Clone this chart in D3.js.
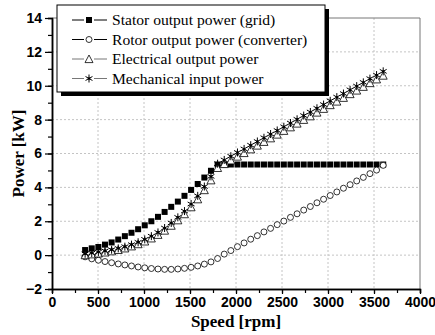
<!DOCTYPE html>
<html>
<head>
<meta charset="utf-8">
<script src="https://cdn.jsdelivr.net/npm/d3@7"></script>
<style>
  body { margin: 0; background: #fff; }
  svg { display: block; }
</style>
</head>
<body>
<div id="chart"></div>
<script>
// speed in rpm (x) and powers in kW
var speed = [360, 432, 504, 576, 648, 720, 792, 864, 936, 1008, 1080, 1152, 1224, 1296, 1368, 1440,
             1512, 1584, 1656, 1728, 1800, 1872, 1944, 2016, 2088, 2160, 2232, 2304, 2376, 2448, 2520,
             2592, 2664, 2736, 2808, 2880, 2952, 3024, 3096, 3168, 3240, 3312, 3384, 3456, 3528, 3600];

var stator = [0.3, 0.4, 0.48, 0.62, 0.75, 0.92, 1.12, 1.32, 1.53, 1.76, 2.0, 2.26, 2.55, 2.85, 3.16, 3.5,
              3.85, 4.2, 4.58, 4.98, 5.35, 5.35, 5.35, 5.35, 5.35, 5.35, 5.35, 5.35, 5.35, 5.35, 5.35,
              5.35, 5.35, 5.35, 5.35, 5.35, 5.35, 5.35, 5.35, 5.35, 5.35, 5.35, 5.35, 5.35, 5.35, 5.35];

var rotor = [-0.1, -0.22, -0.3, -0.38, -0.45, -0.52, -0.58, -0.64, -0.7, -0.75, -0.79, -0.82, -0.84, -0.84, -0.82, -0.78,
             -0.72, -0.64, -0.53, -0.4, -0.2, 0.06, 0.27, 0.5, 0.72, 0.94, 1.15, 1.37, 1.58, 1.8, 2.01,
             2.23, 2.44, 2.66, 2.87, 3.09, 3.3, 3.52, 3.73, 3.95, 4.16, 4.38, 4.59, 4.81, 5.02, 5.3];

var electrical = [0.0, 0.05, 0.1, 0.16, 0.23, 0.31, 0.4, 0.52, 0.65, 0.81, 0.99, 1.2, 1.45, 1.74, 2.06, 2.42,
                  2.83, 3.3, 3.84, 4.42, 5.15, 5.38, 5.6, 5.82, 6.03, 6.25, 6.47, 6.69, 6.9, 7.12, 7.34,
                  7.55, 7.77, 7.99, 8.2, 8.42, 8.64, 8.86, 9.07, 9.29, 9.51, 9.72, 9.94, 10.16, 10.38, 10.6];

var mechanical = [0.08, 0.12, 0.18, 0.25, 0.32, 0.4, 0.5, 0.62, 0.76, 0.93, 1.12, 1.34, 1.6, 1.9, 2.23, 2.6,
                  3.02, 3.5, 4.05, 4.65, 5.4, 5.62, 5.84, 6.06, 6.27, 6.49, 6.71, 6.93, 7.15, 7.36, 7.58,
                  7.8, 8.02, 8.24, 8.45, 8.67, 8.89, 9.11, 9.33, 9.54, 9.76, 9.98, 10.2, 10.42, 10.63, 10.85];

var seriesNames = ["Stator output power (grid)", "Rotor output power (converter)",
                   "Electrical output power", "Mechanical input power"];
var seriesSymbols = ["square", "circle", "triangle", "star"];

var xTicks = [0, 500, 1000, 1500, 2000, 2500, 3000, 3500, 4000];
var yTicks = [-2, 0, 2, 4, 6, 8, 10, 12, 14];

(function() {
    var width = 435, height = 335;
    var pLeft = 52, pRight = 420, pTop = 18, pBottom = 289;

    var svg = d3.select("#chart").append("svg")
        .attr("width", width)
        .attr("height", height);

    var x = d3.scaleLinear().domain([0, 4000]).range([pLeft, pRight]);
    var y = d3.scaleLinear().domain([-2, 14]).range([pBottom, pTop]);

    // dashed grid
    svg.append("g").selectAll("line")
        .data(xTicks.filter(function(d) { return d > 0 && d < 4000; }))
        .enter().append("line")
        .attr("x1", function(d) { return x(d); })
        .attr("x2", function(d) { return x(d); })
        .attr("y1", pTop).attr("y2", pBottom)
        .attr("stroke", "#c4c4c4").attr("stroke-dasharray", "2,2");
    svg.append("g").selectAll("line")
        .data(yTicks.filter(function(d) { return d > -2 && d < 14; }))
        .enter().append("line")
        .attr("y1", function(d) { return y(d); })
        .attr("y2", function(d) { return y(d); })
        .attr("x1", pLeft).attr("x2", pRight)
        .attr("stroke", "#c4c4c4").attr("stroke-dasharray", "2,2");

    // frame top/right
    svg.append("path")
        .attr("d", "M" + pLeft + "," + pTop + "H" + pRight + "V" + pBottom)
        .attr("fill", "none").attr("stroke", "#777").attr("stroke-width", 1);

    function styleAxis(g) {
        g.selectAll(".domain").attr("stroke", "#000").attr("stroke-width", 1.5);
        g.selectAll(".tick line").attr("stroke", "#000").attr("stroke-width", 1.2);
        g.selectAll(".tick text")
            .attr("font-family", "Liberation Sans, Arial, sans-serif")
            .attr("font-weight", "bold")
            .attr("font-size", "14px")
            .attr("fill", "#000");
    }

    svg.append("g")
        .attr("transform", "translate(0," + pBottom + ")")
        .call(d3.axisBottom(x).tickValues(d3.range(0, 4001, 250)).tickSize(4).tickFormat(""))
        .call(styleAxis);
    svg.append("g")
        .attr("transform", "translate(0," + pBottom + ")")
        .call(d3.axisBottom(x).tickValues(xTicks).tickSize(5).tickSizeOuter(0).tickPadding(3).tickFormat(d3.format("d")))
        .call(styleAxis);

    svg.append("g")
        .attr("transform", "translate(" + pLeft + ",0)")
        .call(d3.axisLeft(y).tickValues(d3.range(-2, 14.1, 1)).tickSize(4).tickFormat(""))
        .call(styleAxis);
    svg.append("g")
        .attr("transform", "translate(" + pLeft + ",0)")
        .call(d3.axisLeft(y).tickValues(yTicks).tickSize(7).tickSizeOuter(0).tickPadding(3).tickFormat(d3.format("d")))
        .call(styleAxis);

    // axis titles
    svg.append("text")
        .attr("x", (pLeft + pRight) / 2).attr("y", 327)
        .attr("text-anchor", "middle")
        .attr("font-family", "Liberation Serif, Times New Roman, serif")
        .attr("font-weight", "bold").attr("font-size", "17px")
        .text("Speed [rpm]");
    svg.append("text")
        .attr("transform", "translate(24," + ((pTop + pBottom) / 2) + ") rotate(-90)")
        .attr("text-anchor", "middle")
        .attr("font-family", "Liberation Serif, Times New Roman, serif")
        .attr("font-weight", "bold").attr("font-size", "17px")
        .text("Power [kW]");

    function drawMarker(g, kind, cx, cy) {
        if (kind === "square") {
            g.append("rect").attr("x", cx - 3).attr("y", cy - 3).attr("width", 6).attr("height", 6)
                .attr("fill", "#000");
        } else if (kind === "circle") {
            g.append("circle").attr("cx", cx).attr("cy", cy).attr("r", 3)
                .attr("fill", "#fff").attr("stroke", "#000").attr("stroke-width", 0.8);
        } else if (kind === "triangle") {
            var s = 4;
            g.append("path")
                .attr("d", "M" + cx + "," + (cy - s) + "L" + (cx + s) + "," + (cy + s * 0.9) +
                           "L" + (cx - s) + "," + (cy + s * 0.9) + "Z")
                .attr("fill", "#fff").attr("stroke", "#000").attr("stroke-width", 0.8);
        } else {
            var r = 4, p = "";
            [90, 30, 150].forEach(function(a) {
                var dx = r * Math.cos(a * Math.PI / 180), dy = r * Math.sin(a * Math.PI / 180);
                p += "M" + (cx - dx) + "," + (cy - dy) + "L" + (cx + dx) + "," + (cy + dy);
            });
            g.append("path").attr("d", p).attr("stroke", "#000").attr("stroke-width", 1).attr("fill", "none");
            g.append("circle").attr("cx", cx).attr("cy", cy).attr("r", 1.2).attr("fill", "#000");
        }
    }

    var allSeries = [stator, rotor, electrical, mechanical];
    allSeries.forEach(function(vals, i) {
        var g = svg.append("g");
        vals.forEach(function(v, j) {
            drawMarker(g, seriesSymbols[i], x(speed[j]), y(v));
        });
    });

    // legend with drop shadow
    var lg = svg.append("g");
    lg.append("rect").attr("x", 61).attr("y", 9).attr("width", 268).attr("height", 87).attr("fill", "#000");
    lg.append("rect").attr("x", 57).attr("y", 5).attr("width", 268).attr("height", 87)
        .attr("fill", "#fff").attr("stroke", "#000").attr("stroke-width", 1);

    seriesNames.forEach(function(name, i) {
        var cy = 20 + i * 19.5;
        var lineColor = i < 2 ? "#000" : "#777";
        lg.append("line").attr("x1", 72).attr("x2", 84).attr("y1", cy).attr("y2", cy)
            .attr("stroke", lineColor).attr("stroke-width", 1);
        lg.append("line").attr("x1", 94).attr("x2", 107).attr("y1", cy).attr("y2", cy)
            .attr("stroke", lineColor).attr("stroke-width", 1);
        drawMarker(lg, seriesSymbols[i], 89, cy);
        lg.append("text").attr("x", 112).attr("y", cy + 5)
            .attr("font-family", "Liberation Serif, Times New Roman, serif")
            .attr("font-size", "15.6px")
            .text(name);
    });
})();
</script>
</body>
</html>
